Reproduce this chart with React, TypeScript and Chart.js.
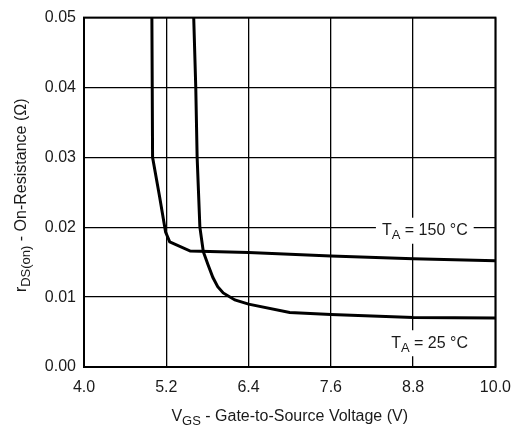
import React, { useEffect, useRef } from "react";
import { Chart, registerables } from "chart.js";

Chart.register(...registerables);

const xTicks = [4.0, 5.2, 6.4, 7.6, 8.8, 10.0];
const yTicks = [0.0, 0.01, 0.02, 0.03, 0.04, 0.05];

const vgs150 = [4.99, 5.0, 5.1, 5.19, 5.25, 5.55, 6.4, 7.6, 8.8, 10.0];
const rds150 = [0.05, 0.03, 0.0245, 0.0193, 0.0179, 0.0166, 0.0164, 0.0159, 0.0155, 0.0152];

const vgs25 = [5.6, 5.63, 5.65, 5.69, 5.74, 5.81, 5.88, 5.95, 6.03, 6.2, 6.4, 7.0, 7.6, 8.8, 10.0];
const rds25 = [0.05, 0.04, 0.03, 0.02, 0.0165, 0.0146, 0.0128, 0.0115, 0.0106, 0.0096, 0.009, 0.0078, 0.0075, 0.0071, 0.007];

const labelText = [
  [{ t: "T" }, { t: "A", sub: true }, { t: " = 150 °C" }],
  [{ t: "T" }, { t: "A", sub: true }, { t: " = 25 °C" }],
];
const labelX = [8.97, 9.04];
const labelY = [0.0195, 0.0034];

const xTitle = [{ t: "V" }, { t: "GS", sub: true }, { t: " - Gate-to-Source Voltage (V)" }];
const yTitle = [{ t: "r" }, { t: "DS(on)", sub: true }, { t: " - On-Resistance (Ω)" }];

const FONT = '"Liberation Sans", Arial, sans-serif';
const TXT = "#1a1a1a";
const FS = 16;

type Part = { t: string; sub?: boolean };

function measureRich(ctx: CanvasRenderingContext2D, parts: Part[], size: number) {
  let w = 0;
  for (const p of parts) {
    ctx.font = `${p.sub ? Math.round(size * 0.8) : size}px ${FONT}`;
    w += ctx.measureText(p.t).width;
  }
  return w;
}

function drawRich(ctx: CanvasRenderingContext2D, parts: Part[], cx: number, cy: number, size: number) {
  const w = measureRich(ctx, parts, size);
  let x = cx - w / 2;
  ctx.textBaseline = "middle";
  ctx.textAlign = "left";
  ctx.fillStyle = TXT;
  for (const p of parts) {
    const s = p.sub ? Math.round(size * 0.8) : size;
    ctx.font = `${s}px ${FONT}`;
    ctx.fillText(p.t, x, cy + (p.sub ? size * 0.3 : 0));
    x += ctx.measureText(p.t).width;
  }
  return w;
}

const decorPlugin = {
  id: "decor",
  afterDraw(chart: any) {
    const { ctx, chartArea: a, scales } = chart;
    ctx.save();
    for (let i = 0; i < labelText.length; i++) {
      const cx = scales.x.getPixelForValue(labelX[i]);
      const cy = scales.y.getPixelForValue(labelY[i]);
      const w = measureRich(ctx, labelText[i] as Part[], FS);
      ctx.fillStyle = "#fff";
      ctx.fillRect(cx - w / 2 - 6, cy - 13, w + 12, 26);
      drawRich(ctx, labelText[i] as Part[], cx, cy, FS);
    }
    ctx.strokeStyle = "#000";
    ctx.lineWidth = 2;
    ctx.strokeRect(a.left, a.top, a.right - a.left, a.bottom - a.top);
    drawRich(ctx, xTitle as Part[], (a.left + a.right) / 2, a.bottom + 50, FS);
    ctx.save();
    ctx.translate(a.left - 62, (a.top + a.bottom) / 2 + 3);
    ctx.rotate(-Math.PI / 2);
    drawRich(ctx, yTitle as Part[], 0, 0, FS);
    ctx.restore();
    ctx.restore();
  },
};

export default function App() {
  const ref = useRef<HTMLCanvasElement>(null);
  useEffect(() => {
    document.body.style.margin = "0";
    const chart = new Chart(ref.current!, {
      type: "scatter",
      data: {
        datasets: [
          {
            label: "150",
            data: vgs150.map((x, i) => ({ x, y: rds150[i] })),
            showLine: true,
            borderColor: "#000",
            borderWidth: 3,
            pointRadius: 0,
            tension: 0,
          },
          {
            label: "25",
            data: vgs25.map((x, i) => ({ x, y: rds25[i] })),
            showLine: true,
            borderColor: "#000",
            borderWidth: 3,
            pointRadius: 0,
            tension: 0,
          },
        ],
      },
      options: {
        animation: false,
        responsive: false,
        devicePixelRatio: 1,
        layout: { padding: { top: 14, right: 24, left: 0, bottom: 0 } },
        plugins: { legend: { display: false }, tooltip: { enabled: false } },
        scales: {
          x: {
            type: "linear",
            min: 4,
            max: 10,
            afterBuildTicks: (s: any) => {
              s.ticks = xTicks.map((v) => ({ value: v }));
            },
            afterFit: (s: any) => {
              s.height = 64;
            },
            ticks: {
              callback: (v: any) => Number(v).toFixed(1),
              font: { family: FONT, size: FS },
              color: TXT,
              padding: 11,
              maxRotation: 0,
            },
            grid: { color: "#000", lineWidth: 1.3, drawTicks: false },
            border: { display: false },
          },
          y: {
            type: "linear",
            min: 0,
            max: 0.05,
            afterBuildTicks: (s: any) => {
              s.ticks = yTicks.map((v) => ({ value: v }));
            },
            afterFit: (s: any) => {
              s.width = 84;
            },
            ticks: {
              callback: (v: any) => Number(v).toFixed(2),
              font: { family: FONT, size: FS },
              color: TXT,
              padding: 8,
            },
            grid: { color: "#000", lineWidth: 1.3, drawTicks: false },
            border: { display: false },
          },
        },
      } as any,
      plugins: [decorPlugin],
    });
    return () => chart.destroy();
  }, []);
  return (
    <div style={{ width: 522, height: 431, background: "#fff" }}>
      <canvas ref={ref} width={522} height={431} />
    </div>
  );
}
